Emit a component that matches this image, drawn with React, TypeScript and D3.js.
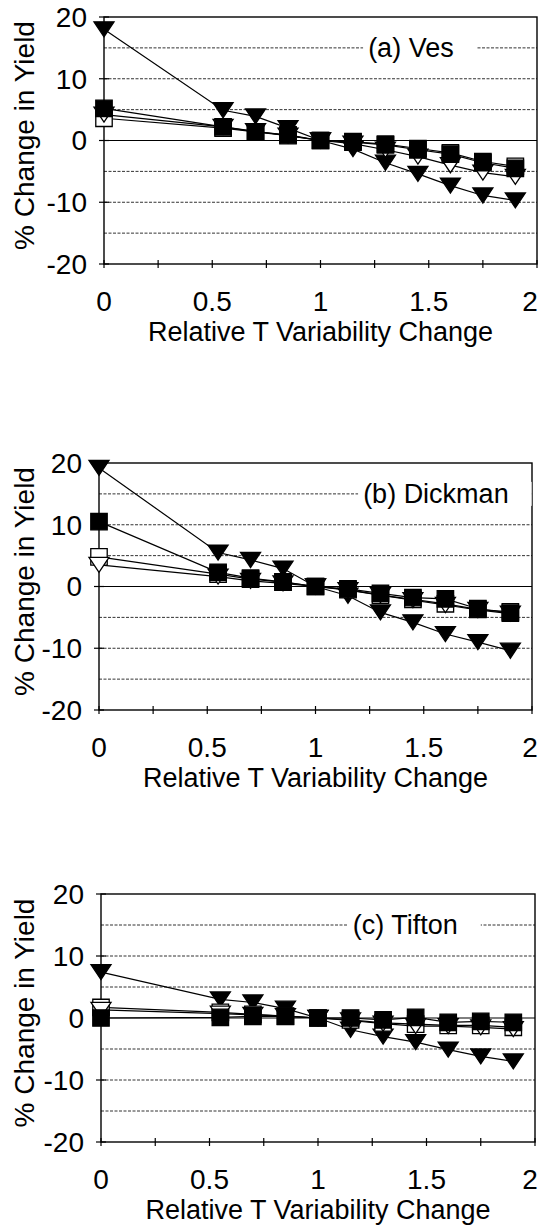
//三联折线图：温度变率变化对产量的影响

import React, { useRef, useEffect } from 'react';
import * as d3 from 'd3';

// x轴：相对温度变率变化
const xValues = [0, 0.55, 0.7, 0.85, 1.0, 1.15, 1.3, 1.45, 1.6, 1.75, 1.9];
const xTicks = [0, 0.5, 1, 1.5, 2];
const yTicks = [-20, -10, 0, 10, 20];
const gridValues = [-15, -10, -5, 5, 10, 15];
const panelTitles = ['(a) Ves', '(b) Dickman', '(c) Tifton'];

// (a) Ves
const vesFilledTri = [18, 4.9, 3.9, 2.0, 0, -1.4, -3.6, -5.4, -7.3, -8.9, -9.7];
const vesOpenTri = [4.2, 2.2, 1.5, 0.8, 0, -0.5, -1.5, -2.6, -4.0, -5.2, -5.9];
const vesOpenSq = [3.6, 2.0, 1.4, 0.8, 0, -0.2, -0.6, -1.3, -2.0, -3.4, -4.2];
const vesFilledSq = [5.2, 2.2, 1.4, 0.9, 0, -0.25, -0.7, -1.5, -2.2, -3.6, -4.5];

// (b) Dickman
const dickFilledTri = [19.2, 5.5, 4.3, 2.9, 0, -1.5, -4.2, -5.8, -7.7, -9.0, -10.4];
const dickOpenTri = [3.5, 1.6, 0.9, 0.5, 0, -0.6, -1.4, -2.2, -3.0, -3.8, -4.4];
const dickOpenSq = [4.8, 2.0, 1.2, 0.7, 0, -0.5, -1.4, -2.1, -2.8, -3.7, -4.1];
const dickFilledSq = [10.5, 2.3, 1.35, 0.75, 0, -0.4, -1.1, -1.8, -2.0, -3.6, -4.3];

// (c) Tifton
const tifFilledTri = [7.4, 3.0, 2.5, 1.5, 0, -1.9, -3.0, -3.9, -5.1, -6.2, -7.0];
const tifOpenTri = [1.3, 0.7, 0.5, 0.3, 0, -0.4, -0.9, -1.3, -1.3, -1.5, -1.8];
const tifOpenSq = [1.7, 0.9, 0.6, 0.3, 0, -0.3, -0.8, -1.0, -1.2, -1.2, -1.5];
const tifFilledSq = [0, 0.1, 0.25, 0.25, 0, 0, -0.3, 0.1, -0.7, -0.55, -0.7];

const panelSeries = [
  [vesFilledTri, vesOpenSq, vesOpenTri, vesFilledSq],
  [dickFilledTri, dickOpenSq, dickOpenTri, dickFilledSq],
  [tifFilledTri, tifOpenSq, tifOpenTri, tifFilledSq],
];

// 每个子图的位置（像素）
const layouts = [
  { left: 104, top: 17, width: 433, height: 247, labelX: 1.22 },
  { left: 99, top: 463, width: 433, height: 247, labelX: 1.22 },
  { left: 101, top: 894, width: 434, height: 248, labelX: 1.16 },
];

// 系列样式：实心倒三角、空心方块、空心倒三角、实心方块
const seriesStyles = [
  { shape: 'tri', fill: '#000' },
  { shape: 'sq', fill: '#fff' },
  { shape: 'tri', fill: '#fff' },
  { shape: 'sq', fill: '#000' },
];

const FONT = '"Liberation Sans", Arial, sans-serif';

// 倒三角形符号
const triangleDown = {
  draw(context, size) {
    const w = Math.sqrt(size) * 0.66;
    const h = w * 0.75;
    context.moveTo(-w, -h);
    context.lineTo(w, -h);
    context.lineTo(0, h);
    context.closePath();
  },
};

const App = () => {
  const ref = useRef(null);

  useEffect(() => {
    const svg = d3.select(ref.current);
    svg.selectAll('*').remove();

    svg.append('rect').attr('width', 539).attr('height', 1231).attr('fill', '#fff');

    layouts.forEach((lay, pi) => {
      const xScale = d3.scaleLinear().domain([0, 2]).range([lay.left, lay.left + lay.width]);
      const yScale = d3.scaleLinear().domain([-20, 20]).range([lay.top + lay.height, lay.top]);
      const g = svg.append('g');

      //虚线网格
      g.selectAll('line.grid')
        .data(gridValues)
        .enter()
        .append('line')
        .attr('x1', xScale(0))
        .attr('x2', xScale(2))
        .attr('y1', d => yScale(d))
        .attr('y2', d => yScale(d))
        .attr('stroke', '#333')
        .attr('stroke-width', 1)
        .attr('stroke-dasharray', '3,1.5');

      //零线
      g.append('line')
        .attr('x1', xScale(0)).attr('x2', xScale(2))
        .attr('y1', yScale(0)).attr('y2', yScale(0))
        .attr('stroke', '#000').attr('stroke-width', 1.2);

      //边框
      g.append('rect')
        .attr('x', xScale(0)).attr('y', yScale(20))
        .attr('width', xScale(2) - xScale(0))
        .attr('height', yScale(-20) - yScale(20))
        .attr('fill', 'none').attr('stroke', '#000').attr('stroke-width', 1.4);

      //子图标题（白底遮住网格线）
      const tx = xScale(lay.labelX);
      const ty = yScale(15);
      const title = g.append('text')
        .attr('x', tx).attr('y', ty + 9)
        .attr('font-family', FONT).attr('font-size', 27)
        .text(panelTitles[pi]);
      const tw = (title.node() as SVGTextElement).getComputedTextLength();
      g.insert('rect', 'text')
        .attr('x', tx - 5).attr('y', ty - 12)
        .attr('width', tw + 28).attr('height', 24)
        .attr('fill', '#fff');

      //x轴刻度
      g.selectAll('line.xt')
        .data(d3.range(0, 2.001, 0.25))
        .enter()
        .append('line')
        .attr('x1', d => xScale(d)).attr('x2', d => xScale(d))
        .attr('y1', yScale(-20) - 4).attr('y2', yScale(-20) + 4)
        .attr('stroke', '#000').attr('stroke-width', 1.2);

      //最右边的"2"不能超出画布
      g.selectAll('text.xl')
        .data(xTicks)
        .enter()
        .append('text')
        .attr('x', d => Math.min(xScale(d), 539 - 9))
        .attr('y', yScale(-20) + 47)
        .attr('text-anchor', 'middle')
        .attr('font-family', FONT).attr('font-size', 28)
        .text(d => String(d));

      //y轴刻度
      g.selectAll('line.yt')
        .data(yTicks)
        .enter()
        .append('line')
        .attr('x1', xScale(0) - 5).attr('x2', xScale(0) + 5)
        .attr('y1', d => yScale(d)).attr('y2', d => yScale(d))
        .attr('stroke', '#000').attr('stroke-width', 1.2);

      g.selectAll('text.yl')
        .data(yTicks)
        .enter()
        .append('text')
        .attr('x', xScale(0) - 17)
        .attr('y', d => yScale(d))
        .attr('dy', '0.35em')
        .attr('text-anchor', 'end')
        .attr('font-family', FONT).attr('font-size', 28)
        .text(d => String(d));

      //坐标轴标题
      g.append('text')
        .attr('x', (xScale(0) + xScale(2)) / 2)
        .attr('y', yScale(-20) + 77)
        .attr('text-anchor', 'middle')
        .attr('font-family', FONT).attr('font-size', 27)
        .text('Relative T Variability Change');

      const cy = (yScale(20) + yScale(-20)) / 2 - 5;
      g.append('text')
        .attr('transform', `translate(34, ${cy}) rotate(-90)`)
        .attr('text-anchor', 'middle')
        .attr('font-family', FONT).attr('font-size', 28)
        .text('% Change in Yield');

      //折线
      const line = d3.line<number>()
        .x((d, i) => xScale(xValues[i]))
        .y(d => yScale(d));

      panelSeries[pi].forEach(vals => {
        g.append('path')
          .attr('d', line(vals))
          .attr('fill', 'none')
          .attr('stroke', '#000')
          .attr('stroke-width', 1.2);
      });

      //标记点
      panelSeries[pi].forEach((vals, si) => {
        const st = seriesStyles[si];
        const sym = d3.symbol()
          .type(st.shape === 'tri' ? triangleDown : d3.symbolSquare)
          .size(st.shape === 'tri' ? 230 : 270);
        g.selectAll(null)
          .data(vals)
          .enter()
          .append('path')
          .attr('d', sym)
          .attr('transform', (d, i) => `translate(${xScale(xValues[i])}, ${yScale(d)})`)
          .attr('fill', st.fill)
          .attr('stroke', '#000')
          .attr('stroke-width', 1.3);
      });
    });
  }, []);

  return (
    <svg
      ref={ref}
      width="539"
      height="1231"
      style={{ position: 'absolute', left: 0, top: 0 }}
    ></svg>
  );
};

export default App;
